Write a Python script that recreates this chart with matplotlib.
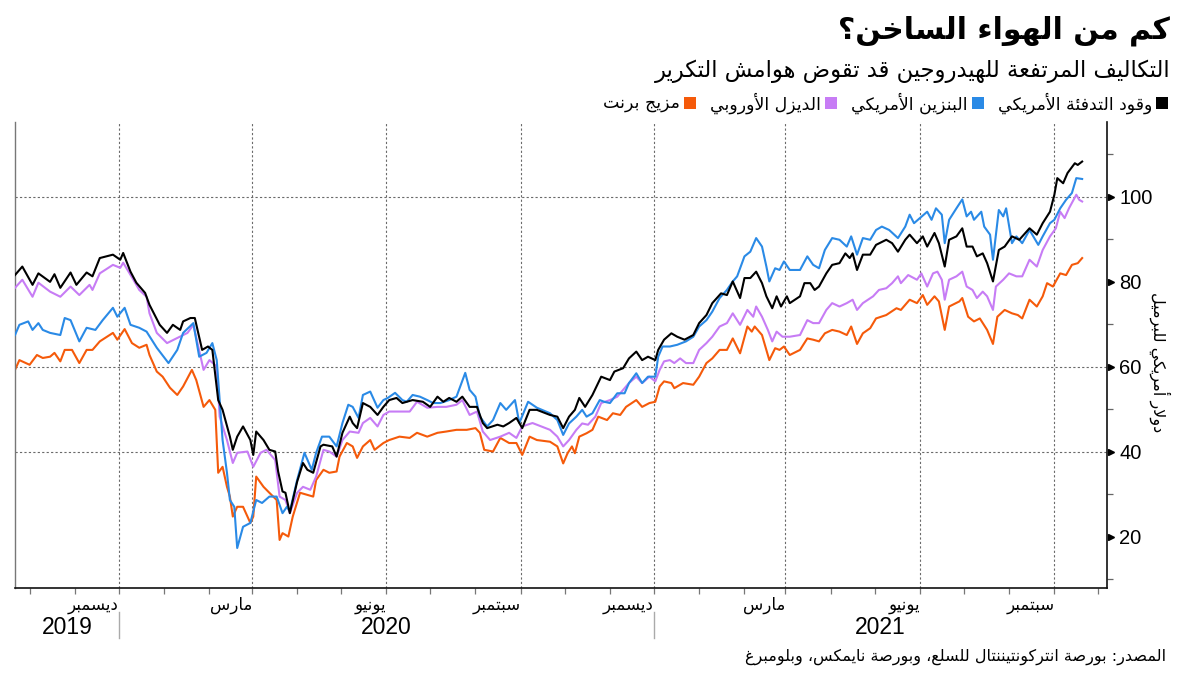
import numpy as np
import matplotlib
matplotlib.use("Agg")
import matplotlib.pyplot as plt
import matplotlib.dates as mdates
import matplotlib.transforms as mtransforms
from matplotlib.patches import Rectangle

W, H = 1200, 675

# ---------------- text ----------------
title = "كم من الهواء الساخن؟"
subtitle = "التكاليف المرتفعة للهيدروجين قد تقوض هوامش التكرير"
source = "المصدر: بورصة انتركونتيننتال للسلع، وبورصة نايمكس، وبلومبرغ"
y_label = "دولار أمريكي للبرميل"

series_names = ["وقود التدفئة الأمريكي", "البنزين الأمريكي", "الديزل الأوروبي", "مزيج برنت"]
series_colors = ["#000000", "#2a8ae6", "#c77cf5", "#f55a0a"]

# ---------------- dates ----------------
START = "2019-09-21"          # first data point / left edge
X_END = "2021-10-07"          # right edge of the axis
quarter_ticks = ["2019-12-01", "2020-03-01", "2020-06-01", "2020-09-01",
                 "2020-12-01", "2021-03-01", "2021-06-01", "2021-09-01"]
tick_labels = ["ديسمبر", "مارس", "يونيو", "سبتمبر", "ديسمبر", "مارس", "يونيو", "سبتمبر"]
year_breaks = ["2019-12-01", "2020-12-01"]
year_labels = ["2019", "2020", "2021"]

y_major = [20, 40, 60, 80, 100]
y_minor = [10, 30, 50, 70, 90, 110]
y_grid = [40, 60, 100]
y_limits = (8, 117.6)

# ---------------- data: (days after START, $ per barrel) ----------------
heating_oil = [
    (0, 81.6), (5, 83.6), (12, 79.3), (16, 82.0), (24, 80.0), (27, 81.8), (31, 78.6), (38, 82.2), (42, 79.3), (49, 82.2),
    (53, 81.3), (58, 85.6), (67, 86.4), (72, 85.2), (74, 86.8), (79, 82.4), (83, 79.8), (89, 77.4), (92, 74.6), (99, 69.9),
    (104, 68.0), (108, 69.9), (113, 68.7), (115, 70.7), (120, 71.5), (123, 71.5), (128, 64.0), (132, 64.8), (135, 64.0), (139, 52.2),
    (142, 49.9), (147, 43.6), (149, 40.5), (152, 43.6), (156, 46.0), (161, 42.8), (163, 39.3), (165, 44.8), (170, 42.8), (174, 40.5),
    (178, 40.1), (180, 35.4), (183, 30.7), (185, 30.4), (188, 25.6), (193, 33.0), (197, 37.4), (200, 35.8), (204, 35.1), (209, 41.3),
    (211, 41.7), (217, 41.3), (220, 38.9), (224, 44.5), (229, 48.3), (231, 46.8), (234, 45.6), (238, 51.5), (243, 50.6), (248, 48.7),
    (252, 50.6), (256, 52.2), (261, 52.7), (265, 51.5), (272, 52.2), (279, 51.8), (284, 50.6), (289, 53.0), (293, 51.8), (297, 52.7),
    (302, 51.8), (306, 53.0), (311, 50.6), (316, 50.6), (320, 46.8), (323, 45.6), (330, 46.4), (334, 46.0), (338, 46.8), (343, 48.0),
    (347, 45.6), (352, 49.9), (357, 49.9), (366, 48.7), (371, 48.3), (375, 45.6), (379, 48.3), (383, 49.9), (386, 52.7), (390, 50.6),
    (395, 53.4), (401, 57.7), (407, 56.9), (410, 58.9), (416, 59.7), (420, 62.0), (425, 63.6), (429, 61.6), (433, 62.4), (438, 61.6),
    (440, 64.0), (444, 66.4), (449, 67.9), (453, 67.1), (458, 66.4), (464, 67.5), (468, 70.3), (473, 72.2), (477, 75.0), (483, 77.3),
    (487, 76.9), (491, 80.1), (496, 76.2), (499, 80.9), (503, 80.9), (507, 82.4), (511, 79.7), (514, 76.6), (518, 73.8), (521, 76.6),
    (524, 74.2), (528, 76.6), (530, 75.0), (537, 76.6), (540, 79.7), (544, 79.7), (547, 78.1), (550, 78.9), (555, 82.0), (559, 84.0),
    (564, 84.4), (568, 86.7), (571, 85.6), (573, 86.7), (576, 82.8), (580, 86.4), (585, 86.4), (589, 88.7), (596, 89.9), (600, 89.1),
    (604, 87.1), (609, 89.9), (612, 91.1), (617, 89.1), (621, 90.7), (624, 88.3), (629, 91.5), (632, 89.1), (636, 83.6), (639, 89.9),
    (644, 90.7), (648, 92.6), (651, 88.3), (655, 88.3), (658, 86.0), (662, 86.7), (665, 84.4), (669, 80.1), (673, 87.5), (677, 88.3),
    (682, 90.7), (687, 89.9), (694, 92.6), (699, 91.1), (703, 93.8), (708, 96.5), (711, 100.5), (713, 104.4), (717, 103.2), (720, 105.6),
    (725, 107.9), (727, 107.5), (730, 108.3),
]

gasoline = [
    (0, 67.5), (3, 69.9), (9, 70.7), (12, 68.7), (16, 70.3), (19, 68.7), (24, 68.0), (31, 67.5), (34, 71.5), (38, 71.0),
    (44, 66.0), (49, 69.2), (55, 68.7), (60, 71.0), (67, 73.9), (70, 71.8), (75, 73.9), (79, 69.9), (85, 69.2), (90, 68.3),
    (97, 64.5), (105, 60.9), (111, 64.0), (115, 68.0), (122, 70.3), (126, 62.4), (131, 63.3), (135, 65.6), (138, 61.6), (142, 42.8),
    (145, 35.1), (147, 28.7), (150, 27.1), (152, 17.4), (156, 22.4), (161, 23.3), (165, 28.7), (169, 28.0), (174, 29.5), (179, 29.5),
    (183, 25.6), (186, 27.1), (188, 26.0), (193, 33.4), (198, 39.8), (203, 35.8), (206, 39.8), (210, 43.6), (215, 43.6), (220, 41.3),
    (224, 46.8), (228, 51.1), (231, 50.6), (235, 48.0), (238, 53.4), (243, 54.2), (248, 50.4), (252, 52.2), (255, 52.7), (260, 53.9),
    (265, 52.2), (268, 51.8), (272, 53.4), (277, 53.0), (282, 52.2), (286, 51.5), (291, 51.5), (297, 52.2), (302, 53.0), (308, 58.6),
    (311, 54.6), (315, 53.0), (318, 48.3), (323, 46.0), (327, 47.5), (332, 51.5), (336, 49.9), (342, 52.2), (345, 46.8), (351, 51.8),
    (357, 50.4), (366, 49.1), (371, 47.5), (375, 44.0), (379, 46.7), (384, 48.3), (388, 49.9), (391, 48.3), (395, 49.1), (400, 52.2),
    (403, 51.8), (407, 51.5), (412, 53.8), (417, 53.8), (420, 56.2), (425, 58.5), (429, 56.2), (433, 57.7), (438, 57.7), (440, 62.4),
    (443, 64.8), (448, 64.8), (453, 65.2), (459, 66.0), (464, 67.1), (468, 69.5), (473, 71.0), (477, 73.0), (482, 76.2), (487, 78.1),
    (491, 80.1), (494, 81.3), (499, 86.0), (503, 87.1), (507, 90.3), (511, 88.3), (514, 83.6), (516, 80.1), (520, 83.2), (523, 82.8),
    (526, 84.8), (530, 82.8), (537, 82.8), (542, 86.0), (546, 84.0), (550, 83.2), (554, 87.5), (559, 90.3), (564, 89.9), (569, 88.3),
    (572, 90.7), (576, 86.4), (580, 90.3), (585, 89.9), (589, 92.2), (593, 93.0), (598, 92.2), (604, 90.3), (609, 93.0), (612, 95.8),
    (615, 93.8), (619, 95.0), (624, 96.5), (627, 94.6), (630, 97.3), (634, 95.8), (636, 89.1), (639, 94.6), (644, 97.3), (648, 99.4),
    (651, 95.4), (654, 96.5), (656, 94.6), (661, 96.5), (663, 93.0), (667, 91.1), (669, 85.2), (673, 96.9), (676, 95.4), (678, 97.3),
    (682, 89.1), (685, 90.7), (689, 89.1), (694, 92.2), (700, 88.7), (703, 90.7), (708, 93.8), (711, 94.6), (715, 97.3), (719, 99.3),
    (723, 100.9), (726, 104.4), (730, 104.2),
]

diesel = [
    (0, 78.6), (5, 80.5), (12, 76.5), (16, 79.8), (24, 77.7), (31, 76.5), (38, 78.9), (44, 76.9), (51, 79.3), (53, 78.1),
    (58, 82.0), (67, 84.0), (72, 83.3), (74, 84.5), (81, 80.5), (85, 78.1), (90, 76.5), (92, 72.6), (97, 68.0), (104, 65.6),
    (111, 66.8), (118, 68.0), (122, 69.9), (129, 59.3), (133, 61.6), (138, 60.1), (140, 48.3), (145, 42.8), (149, 37.4), (152, 39.8),
    (159, 40.1), (163, 36.5), (168, 39.8), (172, 40.5), (178, 38.1), (181, 29.5), (185, 28.7), (188, 25.6), (193, 30.4), (197, 31.8),
    (202, 31.1), (206, 34.2), (211, 40.5), (215, 40.1), (220, 38.9), (224, 42.8), (229, 44.8), (235, 44.5), (238, 46.8), (243, 48.0),
    (248, 46.0), (252, 48.7), (256, 49.5), (263, 49.5), (270, 49.5), (275, 51.8), (282, 50.4), (289, 50.6), (295, 50.6), (302, 51.1),
    (306, 52.2), (311, 48.7), (316, 49.5), (320, 44.8), (325, 42.8), (332, 43.6), (338, 44.5), (343, 43.3), (347, 46.0), (354, 46.8),
    (366, 45.2), (371, 43.6), (375, 41.3), (379, 42.8), (384, 45.2), (388, 46.7), (392, 46.4), (397, 48.3), (401, 51.5), (407, 52.2),
    (412, 53.0), (416, 54.6), (420, 56.2), (425, 57.7), (429, 56.2), (434, 57.7), (438, 56.6), (441, 59.3), (444, 61.3), (448, 61.6),
    (451, 60.9), (455, 62.0), (459, 60.9), (464, 60.9), (468, 64.0), (473, 65.6), (477, 67.1), (482, 69.5), (487, 70.3), (491, 72.6),
    (496, 69.9), (501, 73.4), (505, 71.8), (507, 74.2), (511, 71.8), (515, 68.7), (518, 66.0), (521, 68.3), (525, 67.1), (530, 67.1),
    (537, 67.5), (542, 71.0), (546, 70.3), (550, 70.3), (555, 73.4), (559, 75.0), (564, 74.2), (569, 75.0), (573, 75.8), (576, 73.4),
    (580, 75.0), (587, 76.6), (591, 78.1), (596, 78.5), (600, 79.7), (604, 81.3), (606, 79.7), (611, 81.6), (617, 80.5), (620, 82.0),
    (624, 78.9), (628, 82.0), (631, 82.4), (634, 80.5), (636, 75.8), (639, 80.5), (644, 81.3), (648, 82.4), (651, 78.9), (655, 78.1),
    (658, 76.2), (662, 77.7), (665, 76.6), (669, 73.4), (671, 78.9), (676, 80.5), (680, 82.0), (685, 81.3), (689, 81.3), (694, 85.2),
    (699, 83.6), (703, 87.5), (708, 90.7), (712, 92.6), (715, 96.5), (718, 95.0), (721, 97.3), (726, 100.5), (728, 99.3), (730, 98.9),
]

brent = [
    (0, 59.3), (3, 61.6), (10, 60.5), (15, 62.8), (19, 62.1), (24, 62.4), (27, 63.3), (31, 61.3), (34, 64.0), (39, 64.0),
    (44, 60.9), (49, 64.0), (53, 64.0), (58, 66.0), (67, 68.0), (70, 66.4), (75, 68.9), (80, 65.6), (85, 64.5), (90, 65.2),
    (92, 62.8), (97, 58.9), (101, 57.7), (106, 55.1), (111, 53.4), (115, 55.4), (121, 59.3), (124, 56.9), (129, 50.6), (133, 52.2),
    (137, 49.9), (139, 35.1), (142, 36.5), (145, 31.8), (147, 29.5), (149, 24.8), (152, 27.1), (156, 27.1), (161, 23.3), (163, 24.8),
    (165, 34.2), (170, 31.8), (174, 30.4), (179, 28.7), (181, 19.3), (183, 20.9), (187, 20.1), (190, 24.8), (195, 30.4), (200, 29.9),
    (204, 29.5), (206, 33.4), (211, 35.8), (215, 35.1), (220, 35.4), (222, 38.9), (227, 42.1), (231, 41.3), (234, 38.6), (238, 41.3),
    (243, 42.8), (246, 40.5), (252, 42.1), (256, 42.8), (263, 43.6), (270, 43.3), (275, 44.5), (282, 43.6), (289, 44.5), (295, 44.8),
    (302, 45.2), (309, 45.2), (315, 45.6), (318, 44.5), (321, 40.5), (327, 40.1), (332, 43.3), (338, 42.1), (343, 42.1), (347, 39.3),
    (352, 43.6), (357, 42.8), (366, 42.4), (371, 41.3), (375, 37.3), (378, 39.7), (381, 41.3), (383, 39.7), (386, 43.6), (391, 44.4),
    (395, 45.2), (399, 48.3), (405, 47.5), (409, 49.1), (414, 48.7), (418, 50.6), (425, 52.2), (429, 50.6), (434, 51.5), (438, 51.8),
    (441, 55.4), (444, 56.6), (449, 56.2), (451, 55.0), (457, 56.2), (464, 55.8), (468, 57.7), (473, 60.9), (477, 62.0), (482, 64.0),
    (487, 64.0), (491, 66.7), (496, 63.2), (501, 69.5), (504, 68.3), (506, 69.5), (511, 67.5), (516, 61.6), (520, 64.4), (523, 64.0),
    (526, 64.8), (530, 62.8), (537, 64.0), (542, 66.7), (546, 66.4), (550, 66.0), (554, 67.9), (559, 68.7), (564, 68.3), (569, 67.5),
    (572, 69.5), (576, 65.4), (580, 67.9), (585, 69.1), (589, 71.4), (596, 72.2), (603, 73.8), (606, 73.4), (612, 75.8), (617, 75.0),
    (621, 76.9), (624, 74.6), (629, 76.6), (632, 75.4), (636, 68.7), (639, 74.2), (646, 75.4), (648, 76.2), (652, 71.8), (656, 70.7),
    (660, 71.4), (665, 68.7), (669, 65.4), (672, 71.8), (677, 73.4), (682, 72.6), (686, 72.2), (689, 71.4), (694, 75.8), (699, 74.2),
    (703, 76.6), (706, 79.7), (710, 78.9), (715, 82.0), (719, 81.6), (723, 84.0), (727, 84.4), (730, 85.6),
]

# ---------------- Arabic shaping (presentation forms + RTL order) ----------------
_JOIN = [("\u0621", 1), ("\u0622", 2), ("\u0623", 2), ("\u0624", 2), ("\u0625", 2), ("\u0626", 4),
         ("\u0627", 2), ("\u0628", 4), ("\u0629", 2), ("\u062A", 4), ("\u062B", 4), ("\u062C", 4),
         ("\u062D", 4), ("\u062E", 4), ("\u062F", 2), ("\u0630", 2), ("\u0631", 2), ("\u0632", 2),
         ("\u0633", 4), ("\u0634", 4), ("\u0635", 4), ("\u0636", 4), ("\u0637", 4), ("\u0638", 4),
         ("\u0639", 4), ("\u063A", 4), ("\u0641", 4), ("\u0642", 4), ("\u0643", 4), ("\u0644", 4),
         ("\u0645", 4), ("\u0646", 4), ("\u0647", 4), ("\u0648", 2), ("\u0649", 2), ("\u064A", 4)]
AR_FORMS = {}
_code = 0xFE80
for _ch, _n in _JOIN:
    AR_FORMS[_ch] = (_n, _code)
    _code += _n
LAM_ALEF = {"\u0622": 0xFEF5, "\u0623": 0xFEF7, "\u0625": 0xFEF9, "\u0627": 0xFEFB}


def ar(text):
    units = []
    i = 0
    while i < len(text):
        c = text[i]
        if c == "\u0644" and i + 1 < len(text) and text[i + 1] in LAM_ALEF:
            units.append((2, LAM_ALEF[text[i + 1]], None))
            i += 2
            continue
        if c in AR_FORMS:
            n, code = AR_FORMS[c]
            units.append((n, code, None))
        else:
            units.append((0, None, c))
        i += 1
    out = []
    for k, (n, code, c) in enumerate(units):
        if code is None:
            out.append(c)
            continue
        prev_n = units[k - 1][0] if k > 0 else 0
        next_n = units[k + 1][0] if k + 1 < len(units) else 0
        jp = n >= 2 and prev_n == 4
        jn = n == 4 and next_n >= 2
        if jp and jn:
            g = code + 3
        elif jp:
            g = code + 1
        elif jn:
            g = code + 2
        else:
            g = code
        out.append(chr(g))
    return "".join(out)[::-1]


AR_FONT = ["DejaVu Sans"]
NUM_FONT = ["Liberation Sans", "DejaVu Sans"]

# ---------------- figure ----------------
fig = plt.figure(figsize=(W / 100, H / 100), dpi=100)
ax = fig.add_axes([15 / W, 1 - 588 / H, (1107 - 15) / W, (588 - 122) / H])

base = np.datetime64(START)
series = [heating_oil, gasoline, diesel, brent]
for data, color, z in zip(series[::-1], series_colors[::-1], [2, 3, 4, 5]):
    d = np.array([p[0] for p in data]).astype("timedelta64[D]")
    v = np.array([p[1] for p in data])
    ax.plot(base + d, v, color=color, lw=1.5, zorder=z, solid_joinstyle="round")

x0 = mdates.date2num(np.datetime64(START))
x1 = mdates.date2num(np.datetime64(X_END))
ax.set_xlim(x0, x1)
ax.set_ylim(*y_limits)

# grid
qdates = [mdates.date2num(np.datetime64(q)) for q in quarter_ticks]
for q in qdates:
    ax.axvline(q, color="#6a6a6a", lw=0.8, ls=(0, (2, 2)), zorder=1)
for g in y_grid:
    ax.axhline(g, color="#6a6a6a", lw=0.8, ls=(0, (2, 2)), zorder=1)

# spines
ax.spines["top"].set_visible(False)
ax.spines["left"].set_color("#777777")
ax.spines["left"].set_linewidth(1.0)
ax.spines["bottom"].set_color("#111111")
ax.spines["bottom"].set_linewidth(1.2)
ax.spines["right"].set_color("#111111")
ax.spines["right"].set_linewidth(1.2)

# x ticks
ax.xaxis.set_minor_locator(mdates.MonthLocator())
ax.set_xticks(qdates)
ax.set_xticklabels([ar(t) for t in tick_labels], ha="right", fontfamily=AR_FONT, fontsize=12)
ax.tick_params(axis="x", which="both", length=4, width=0.9, color="#777777", pad=2)

# y ticks on the right
ax.yaxis.tick_right()
ax.set_yticks(y_major)
ax.set_yticks(y_minor, minor=True)
ax.set_yticklabels([str(v) for v in y_major], fontfamily=NUM_FONT, fontsize=14.5)
ax.tick_params(axis="y", which="major", length=0, pad=9)
ax.tick_params(axis="y", which="minor", length=4, width=0.9, color="#666666")
tri_tr = mtransforms.blended_transform_factory(ax.transAxes, ax.transData) + \
    mtransforms.ScaledTranslation(4 / 100, 0, fig.dpi_scale_trans)
ax.plot(np.ones(len(y_major)), y_major, ls="none", marker=">", ms=5, color="black",
        transform=tri_tr, clip_on=False)

# year labels and separators
sep_tr = mtransforms.blended_transform_factory(ax.transData, ax.transAxes)
bounds = [x0] + [mdates.date2num(np.datetime64(b)) for b in year_breaks] + [x1]
for b in bounds[1:-1]:
    ax.plot([b, b], [-0.051, -0.107], color="#aaaaaa", lw=1.0, transform=sep_tr, clip_on=False)
for lab, a, b in zip(year_labels, bounds[:-1], bounds[1:]):
    ax.text((a + b) / 2, -0.085, lab, transform=sep_tr, ha="center", va="center",
            fontfamily=NUM_FONT, fontsize=16.5)

# y label
fig.text(1160 / W, 1 - 362 / H, ar(y_label), rotation=-90, ha="center", va="center",
         fontfamily=AR_FONT, fontsize=11.5)

# titles
fig.text(1170 / W, 1 - 31 / H, ar(title), ha="right", va="center",
         fontfamily=AR_FONT, fontsize=21.5, fontweight="bold")
fig.text(1170 / W, 1 - 71 / H, ar(subtitle), ha="right", va="center",
         fontfamily=AR_FONT, fontsize=16.3)
fig.text(1166 / W, 1 - 657 / H, ar(source), ha="right", va="center",
         fontfamily=AR_FONT, fontsize=11.5)

# legend (right to left)
renderer = fig.canvas.get_renderer()
xr = 1168
yc = 103
sq = 12
for name, color in zip(series_names, series_colors):
    fig.add_artist(Rectangle(((xr - sq) / W, (H - yc - sq / 2) / H), sq / W, sq / H,
                             transform=fig.transFigure, facecolor=color, edgecolor="none"))
    xr = xr - sq - 4
    t = fig.text(xr / W, 1 - yc / H, ar(name), ha="right", va="center",
                 fontfamily=AR_FONT, fontsize=12.5)
    bb = t.get_window_extent(renderer)
    xr = bb.x0 - 14

fig.savefig("out.png", dpi=100)
